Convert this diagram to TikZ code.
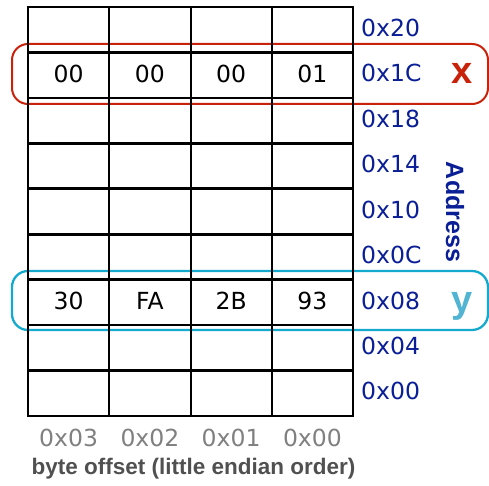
\documentclass[tikz,border=0pt]{standalone}
\usepackage{fontspec}
\setmainfont{DejaVu Sans}
\newfontfamily\arialfont{Liberation Sans}
\definecolor{boxred}{RGB}{200,35,10}
\definecolor{boxcyan}{RGB}{20,170,205}
\definecolor{ycyan}{RGB}{80,180,210}
\definecolor{addrblue}{RGB}{10,30,150}
\definecolor{offgray}{RGB}{128,128,128}
\definecolor{capgray}{RGB}{80,80,80}
\begin{document}
\begin{tikzpicture}[x=1pt,y=-1pt,
  cell/.style={font=\fontsize{23.5}{26}\selectfont, text=black, inner sep=0pt},
  addr/.style={font=\fontsize{23.5}{26}\selectfont, text=addrblue, anchor=west, inner sep=0pt},
  offs/.style={font=\fontsize{23.5}{26}\selectfont, text=offgray, inner sep=0pt},
  varbox/.style={line width=2pt, rounded corners=16pt},
  gridline/.style={line width=2pt, black},
  thickline/.style={line width=2.8pt, black}]
\useasboundingbox (0,0) rectangle (489,486);
% variable boxes
\draw[varbox, boxred] (12,44) rectangle (488,104);
\draw[varbox, boxcyan, line width=2.3pt] (12,271) rectangle (488,330);
% grid
\foreach \i in {1,...,8} {
  \draw[gridline, line width=2.6pt] (28,{7+45.444*\i}) -- (353,{7+45.444*\i});
}
\foreach \x in {109.25,190.5,271.75} {
  \draw[gridline] (\x,7) -- (\x,416);
}
\draw[thickline] (28,7) rectangle (353,416);
% cell contents
\node[cell] (x3) at (68.6,74) {00};
\node[cell] (x2) at (149.9,74) {00};
\node[cell] (x1) at (231.1,74) {00};
\node[cell] (x0) at (312.4,74) {01};
\node[cell] (y3) at (68.6,301) {30};
\node[cell] (y2) at (149.9,301) {FA};
\node[cell] (y1) at (231.1,301) {2B};
\node[cell] (y0) at (312.4,301) {93};
% addresses
\node[addr] (a20) at (361,27.5) {0x20};
\node[addr] (a1C) at (361,73) {0x1C};
\node[addr] (a18) at (361,118.5) {0x18};
\node[addr] (a14) at (361,164) {0x14};
\node[addr] (a10) at (361,209.5) {0x10};
\node[addr] (a0C) at (361,255) {0x0C};
\node[addr] (a08) at (361,300.5) {0x08};
\node[addr] (a04) at (361,346) {0x04};
\node[addr] (a00) at (361,391) {0x00};
% byte offsets
\node[offs] (o3) at (68.6,438) {0x03};
\node[offs] (o2) at (149.9,438) {0x02};
\node[offs] (o1) at (231.1,438) {0x01};
\node[offs] (o0) at (312.4,438) {0x00};
\node[font=\arialfont\bfseries\fontsize{22.5}{26}\selectfont, text=capgray, inner sep=0pt] (cap) at (193.5,469) {byte offset (little endian order)};
% variable names
\node[font=\arialfont\bfseries\fontsize{38}{40}\selectfont, text=boxred, inner sep=0pt, anchor=base] (vx) at (462,84) {x};
\node[font=\arialfont\bfseries\fontsize{38}{40}\selectfont, text=ycyan, inner sep=0pt, anchor=base] (vy) at (462,312) {y};
\node[font=\arialfont\bfseries\fontsize{25}{28}\selectfont, text=addrblue, inner sep=0pt, rotate=-90] (addrlabel) at (455,212) {Address};
\end{tikzpicture}
\end{document}
